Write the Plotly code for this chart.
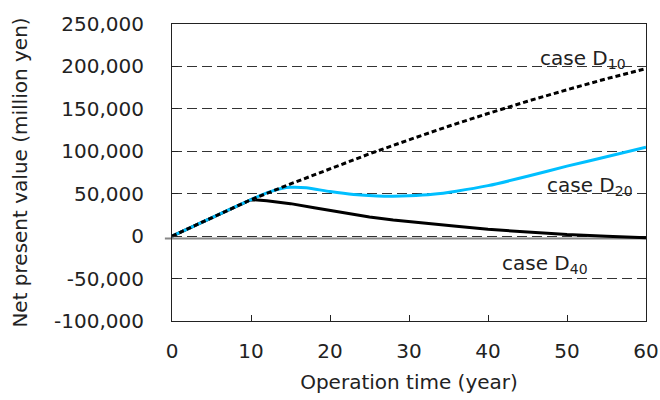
import plotly.graph_objects as go

# Data
years_d10 = [0, 5, 10, 15, 20, 25, 30, 35, 40, 45, 50, 55, 60]
npv_d10 = [0, 21500, 43000, 61500, 79500, 97000, 113500, 129500, 144500, 159000, 172500, 185500, 197500]

years_d20 = [0, 5, 10, 12, 14, 15, 17, 20, 23, 26, 28, 30, 33, 36, 40, 45, 50, 55, 60]
npv_d20 = [0, 21500, 43000, 51000, 56500, 57500, 57000, 52500, 49000, 47300, 47000, 47500,
           49300, 53000, 59500, 70500, 82500, 93500, 104700]

years_d40 = [0, 5, 10, 12, 15, 18, 20, 22, 25, 28, 30, 33, 36, 40, 45, 50, 55, 60]
npv_d40 = [0, 21500, 43000, 41800, 38300, 33500, 30300, 27300, 22500, 19000, 17000, 14200,
           11600, 8000, 4500, 1800, 0, -1800]

label_text = ["case D<sub>10</sub>", "case D<sub>20</sub>", "case D<sub>40</sub>"]
label_x = [52.0, 52.9, 47.2]
label_y = [209000, 59600, -33300]

y_ticks = [-100000, -50000, 0, 50000, 100000, 150000, 200000, 250000]
y_tick_labels = ["-100,000", "-50,000", "0", "50,000", "100,000", "150,000", "200,000", "250,000"]
x_ticks = [0, 10, 20, 30, 40, 50, 60]

FONT = "DejaVu Sans"
FS = 20

fig = go.Figure()
fig.add_trace(go.Scatter(x=years_d40, y=npv_d40, mode="lines",
                         line=dict(color="black", width=3), showlegend=False))
fig.add_trace(go.Scatter(x=years_d20, y=npv_d20, mode="lines",
                         line=dict(color="#00BFFF", width=3, shape="spline", smoothing=0.6),
                         showlegend=False))
fig.add_trace(go.Scatter(x=years_d10, y=npv_d10, mode="lines",
                         line=dict(color="black", width=3, dash="5px,3px"), showlegend=False))

for t, x, y in zip(label_text, label_x, label_y):
    fig.add_annotation(x=x, y=y, text=t, showarrow=False,
                       font=dict(family=FONT, size=FS, color="#222"))

# solid zero line slightly below the dashed zero gridline
fig.add_shape(type="line", xref="paper", yref="y", x0=-0.015, x1=1, y0=-2800, y1=-2800,
              line=dict(color="#888", width=2), layer="below")

fig.update_layout(
    width=660, height=400,
    margin=dict(l=172, r=14, t=24, b=79),
    paper_bgcolor="white", plot_bgcolor="white",
    font=dict(family=FONT, size=FS, color="#222"),
    xaxis=dict(range=[0, 60], tickvals=x_ticks, ticks="inside", ticklen=6,
               tickcolor="#222", showline=True, linecolor="#222", linewidth=1,
               mirror=True, showgrid=False, zeroline=False, automargin="bottom",
               ticklabelstandoff=12, ticklabeloverflow="allow",
               title=dict(text="Operation time (year)", standoff=12,
                          font=dict(size=FS))),
    yaxis=dict(range=[-100000, 250000], tickvals=y_ticks, ticktext=y_tick_labels,
               ticks="inside", ticklen=6, tickcolor="#222",
               showline=True, linecolor="#222", linewidth=1, mirror=True,
               showgrid=True, gridcolor="#333", gridwidth=1, griddash="10px,5px",
               zeroline=False, automargin="left", ticklabelstandoff=23,
               title=dict(text="Net present value (million yen)", standoff=21,
                          font=dict(size=FS))),
)

fig.write_html("out.html", config={"displayModeBar": False},
               post_script="document.body.style.margin='0';document.body.style.overflow='hidden';")
